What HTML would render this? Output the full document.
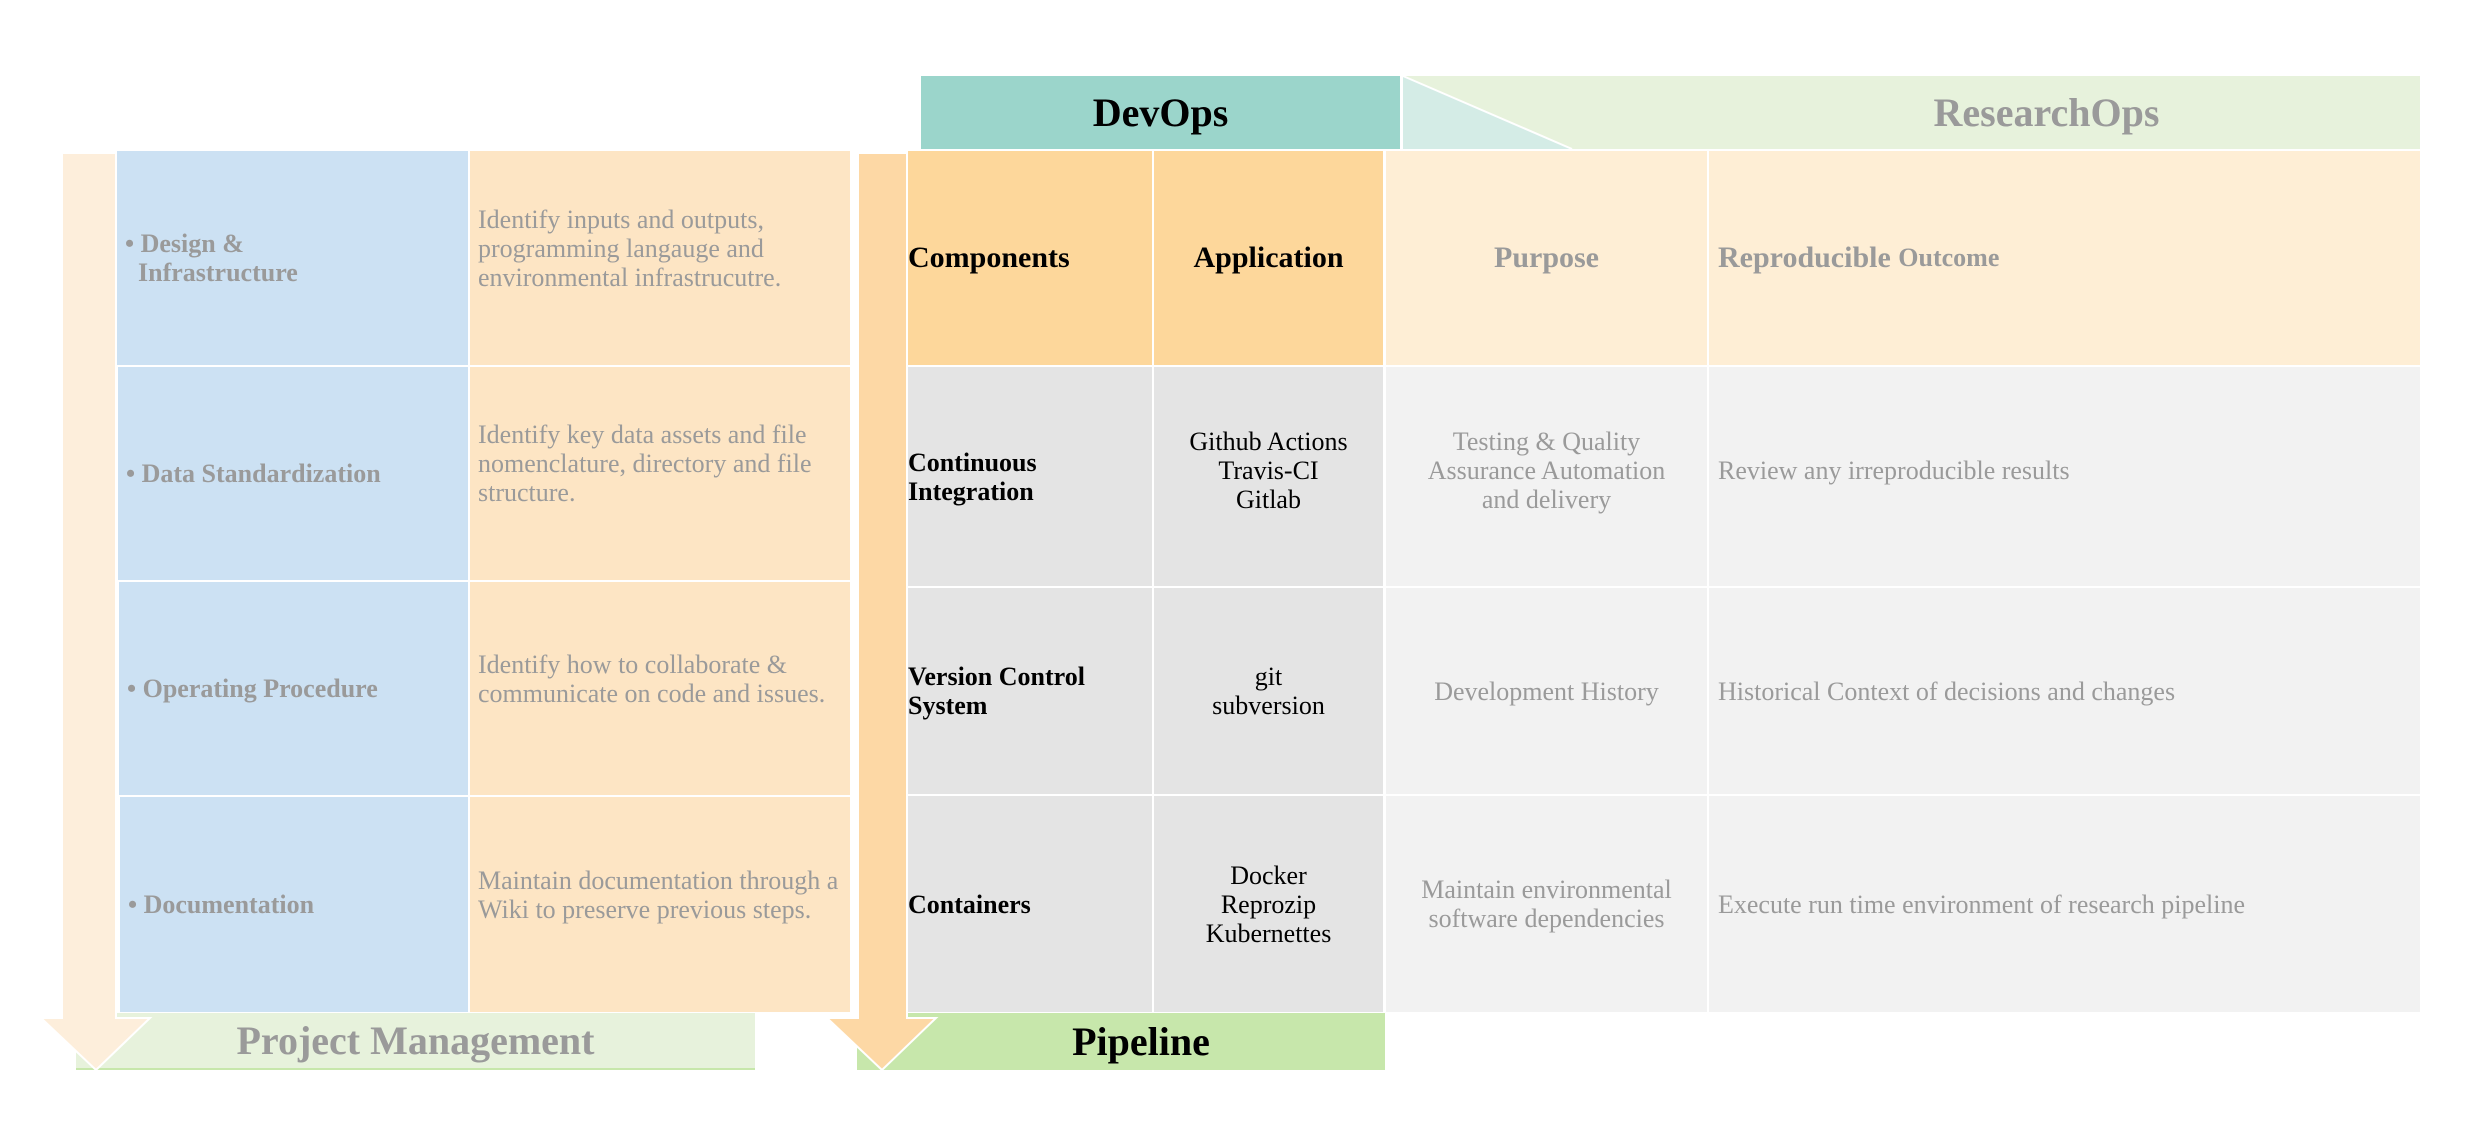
<!DOCTYPE html>
<html><head><meta charset="utf-8"><style>
body{margin:0;width:2471px;height:1148px;background:#fff;position:relative;overflow:hidden;font-family:"Liberation Serif",serif;}
.b{position:absolute;box-sizing:border-box;display:flex;align-items:center;}
.g{color:#9a9a9a}
.k{color:#000}
.bl{background:#cce1f3}
.pe{background:#fde5c4}
.t{font-size:26px;line-height:29px;}
.bo{font-weight:bold}
</style></head><body>
<svg style="position:absolute;left:0;top:0" width="2471" height="1148">
<rect x="1403" y="76" width="1017" height="73" fill="#e7f2dc"/>
<polygon points="1403,76 1572,149 1403,149" fill="#d4ece6"/>
<line x1="1403" y1="76" x2="1572" y2="149" stroke="#fff" stroke-width="2"/>
</svg>
<div class="b bo k" style="left:921px;top:76px;width:479px;height:73px;background:#9bd5cb;justify-content:center;font-size:40px">DevOps</div>
<div class="b bo g" style="left:1403px;top:76px;width:1017px;height:73px;justify-content:center;font-size:40px;padding-left:270px">ResearchOps</div>

<div class="b bl bo g t" style="left:117px;top:151px;width:351px;height:214px;padding-left:8px"><div>• Design &amp;<br>&nbsp;&nbsp;Infrastructure</div></div>
<div class="b bl bo g t" style="left:118px;top:367px;width:350px;height:213px;padding-left:8px">• Data Standardization</div>
<div class="b bl bo g t" style="left:119px;top:582px;width:349px;height:213px;padding-left:8px">• Operating Procedure</div>
<div class="b bl bo g t" style="left:120px;top:797px;width:348px;height:215px;padding-left:8px">• Documentation</div>
<div class="b pe g t" style="left:470px;top:151px;width:380px;height:214px;padding-left:8px;padding-bottom:20px">Identify inputs and outputs, programming langauge and environmental infrastrucutre.</div>
<div class="b pe g t" style="left:470px;top:367px;width:380px;height:213px;padding-left:8px;padding-bottom:20px">Identify key data assets and file nomenclature, directory and file structure.</div>
<div class="b pe g t" style="left:470px;top:582px;width:380px;height:213px;padding-left:8px;padding-bottom:20px">Identify how to collaborate &amp; communicate on code and issues.</div>
<div class="b pe g t" style="left:470px;top:797px;width:380px;height:215px;padding-left:8px;padding-bottom:20px">Maintain documentation through a Wiki to preserve previous steps.</div>
<div class="b bo g" style="left:76px;top:1013px;width:679px;height:57px;background:#e7f2dc;justify-content:center;font-size:40px;border-bottom:2px solid #c7e7ab">Project Management</div>
<div class="b bo k" style="left:857px;top:1013px;width:528px;height:57px;background:#c7e7ab;justify-content:center;font-size:40px;padding-left:40px">Pipeline</div>

<div class="b bo k" style="left:908px;top:151px;width:244px;height:214px;background:#fdd79b;font-size:30px">Components</div>
<div class="b bo k" style="left:1154px;top:151px;width:229px;height:214px;background:#fdd79b;font-size:30px;justify-content:center">Application</div>
<div class="b bo g" style="left:1386px;top:151px;width:321px;height:214px;background:#feeed5;font-size:30px;justify-content:center">Purpose</div>
<div class="b bo g" style="left:1709px;top:151px;width:711px;height:214px;background:#feeed5;font-size:30px;padding-left:9px">Reproducible&nbsp;<span style="font-size:26px">Outcome</span></div>

<div class="b bo k t" style="left:908px;top:367px;width:244px;height:219px;background:#e4e4e4;font-size:26px">Continuous<br>Integration</div>
<div class="b k t" style="left:1154px;top:367px;width:229px;height:219px;background:#e4e4e4;justify-content:center;text-align:center;padding-bottom:12px">Github Actions<br>Travis-CI<br>Gitlab</div>
<div class="b g t" style="left:1386px;top:367px;width:321px;height:219px;background:#f2f2f2;justify-content:center;text-align:center;padding-bottom:12px">Testing &amp; Quality<br>Assurance Automation<br>and delivery</div>
<div class="b g t" style="left:1709px;top:367px;width:711px;height:219px;background:#f2f2f2;padding-left:9px;padding-bottom:12px">Review any irreproducible results</div>

<div class="b bo k t" style="left:908px;top:588px;width:244px;height:206px;background:#e4e4e4">Version Control<br>System</div>
<div class="b k t" style="left:1154px;top:588px;width:229px;height:206px;background:#e4e4e4;justify-content:center;text-align:center">git<br>subversion</div>
<div class="b g t" style="left:1386px;top:588px;width:321px;height:206px;background:#f2f2f2;justify-content:center">Development History</div>
<div class="b g t" style="left:1709px;top:588px;width:711px;height:206px;background:#f2f2f2;padding-left:9px">Historical Context of decisions and changes</div>

<div class="b bo k t" style="left:908px;top:796px;width:244px;height:216px;background:#e4e4e4">Containers</div>
<div class="b k t" style="left:1154px;top:796px;width:229px;height:216px;background:#e4e4e4;justify-content:center;text-align:center">Docker<br>Reprozip<br>Kubernettes</div>
<div class="b g t" style="left:1386px;top:796px;width:321px;height:216px;background:#f2f2f2;justify-content:center;text-align:center">Maintain environmental<br>software dependencies</div>
<div class="b g t" style="left:1709px;top:796px;width:711px;height:216px;background:#f2f2f2;padding-left:9px">Execute run time environment of research pipeline</div>

<svg style="position:absolute;left:0;top:0" width="2471" height="1148">
<polygon points="62,153 116,153 116,1018 150,1018 96,1070 41,1018 62,1018" fill="#fdeedb" stroke="#fff" stroke-width="2"/>
<polygon points="858,153 907,153 907,1018 936,1018 882,1070 827,1018 858,1018" fill="#fdd8a5" stroke="#fff" stroke-width="2"/>
</svg>
</body></html>
